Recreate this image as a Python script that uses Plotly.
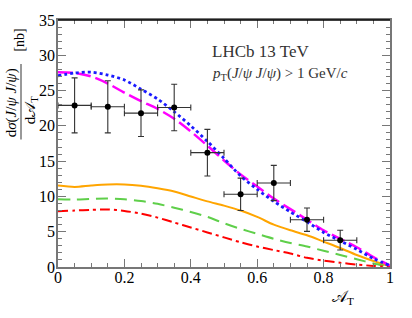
import plotly.graph_objects as go

# ---- data ----
x_data = [0.05, 0.15, 0.25, 0.35, 0.45, 0.55, 0.65, 0.75, 0.85]
y_data = [22.9, 22.7, 21.8, 22.6, 16.2, 10.3, 11.9, 6.7, 3.8]
y_err = [3.9, 3.7, 3.3, 3.3, 3.3, 2.3, 2.5, 1.65, 1.4]
x_err = [0.05] * 9

x_curve = [0.0, 0.05, 0.1, 0.15, 0.2, 0.25, 0.3, 0.35, 0.4, 0.45, 0.5,
           0.55, 0.6, 0.65, 0.7, 0.75, 0.8, 0.85, 0.9, 0.95, 1.0]
magenta = [27.6, 27.5, 27.0, 26.0, 24.7, 23.5, 22.4, 21.0, 19.2, 17.2, 15.1,
           13.1, 11.4, 9.7, 8.2, 6.7, 5.2, 4.0, 2.8, 1.4, 0.2]
blue = [27.1, 27.5, 27.6, 27.2, 26.5, 25.2, 23.8, 22.0, 20.0, 17.8, 15.4,
        12.9, 11.0, 9.3, 7.8, 6.4, 4.9, 3.7, 2.5, 1.2, 0.2]
orange = [11.55, 11.35, 11.55, 11.7, 11.7, 11.5, 11.15, 10.7, 10.0, 9.3, 8.7,
          8.0, 7.1, 6.0, 5.2, 4.5, 3.6, 2.7, 1.7, 0.85, 0.1]
green = [9.6, 9.55, 9.65, 9.7, 9.6, 9.35, 8.95, 8.4, 7.8, 7.1, 6.2,
         5.4, 4.7, 4.0, 3.4, 2.9, 2.3, 1.7, 1.1, 0.5, 0.05]
red = [7.9, 8.0, 8.1, 8.15, 7.95, 7.55, 7.0, 6.3, 5.6, 4.9, 4.2,
       3.5, 2.9, 2.4, 1.9, 1.3, 0.9, 0.6, 0.35, 0.15, 0.0]

x_ticks = [0, 0.2, 0.4, 0.6, 0.8, 1]
x_ticklabels = ["0", "0.2", "0.4", "0.6", "0.8", "1"]
y_ticks = [0, 5, 10, 15, 20, 25, 30, 35]

FONT = "Liberation Serif"

fig = go.Figure()

curves = [
    (orange, "#ffa500", "solid", 2),
    (green, "#5fcf4a", "12px,7px", 2),
    (red, "#ff0000", "10px,4px,3px,4px", 2),
    (magenta, "#ff00ff", "14px,5px", 2.5),
    (blue, "#1a1aff", "dot", 2.8),
]
for ys, col, dash, w in curves:
    fig.add_trace(go.Scatter(x=x_curve, y=ys, mode="lines",
                             line=dict(color=col, dash=dash, width=w, shape="spline", smoothing=0.8),
                             showlegend=False, hoverinfo="skip"))

fig.add_trace(go.Scatter(
    x=x_data, y=y_data, mode="markers",
    marker=dict(color="black", size=6),
    error_y=dict(type="data", array=y_err, color="#333333", thickness=1.1, width=3),
    error_x=dict(type="data", array=x_err, color="#333333", thickness=1.1, width=3),
    showlegend=False))

axis_common = dict(
    showline=True, linecolor="#777777", linewidth=1.5, mirror="ticks",
    ticks="inside", ticklen=8, tickwidth=1, tickcolor="#777777",
    showgrid=False, zeroline=False,
    tickfont=dict(family=FONT, size=16, color="black"),
)

fig.update_xaxes(range=[0, 1], tickvals=x_ticks, ticktext=x_ticklabels,
                 minor=dict(dtick=0.05, ticklen=4, ticks="inside", tickcolor="#777777"),
                 ticklabelstandoff=-5,
                 **axis_common)
fig.update_yaxes(range=[0, 35], tickvals=y_ticks,
                 minor=dict(dtick=1, ticklen=4, ticks="inside", tickcolor="#777777"),
                 ticklabelstandoff=-2,
                 **axis_common)

W, H = 412, 318
L, T = 58, 15
R = W - 390
B = H - 267
pw, ph = W - L - R, H - T - B

def px2paper(px, py):
    return (px - L) / pw, (H - B - py) / ph

def ann(px, py, text, size, angle=0, xanchor="center", color="black"):
    x, y = px2paper(px, py)
    return dict(x=x, y=y, xref="paper", yref="paper", showarrow=False,
                xanchor=xanchor, yanchor="middle", textangle=angle, text=text,
                font=dict(family=FONT, size=size, color=color))

anns = [
    ann(343, 298, "𝒜<sub>T</sub>", 16),
    ann(11, 99, "d<i>σ</i>(<i>J</i>/<i>ψ</i> <i>J</i>/<i>ψ</i>)", 15, angle=-90),
    ann(31, 107, "d𝒜<sub>T</sub>", 15, angle=-90),
    ann(20, 36, "[nb]", 14, angle=-90),
    ann(210, 47, "LHCb 13 TeV", 17, xanchor="left", color="#333333"),
    ann(210, 70, "<i>p</i><sub>T</sub>(<i>J</i>/<i>ψ</i> <i>J</i>/<i>ψ</i>) > 1 GeV/<i>c</i>",
        15, xanchor="left", color="#333333"),
]

fx0, fy0 = px2paper(21, 60)
fx1, fy1 = px2paper(21, 137)
shapes = [
    dict(type="line", xref="paper", yref="paper", x0=fx0, x1=fx0, y0=fy0, y1=fy1,
         line=dict(color="#555555", width=1.2)),
    dict(type="line", xref="paper", yref="paper", x0=0, x1=1, y0=1, y1=1,
         line=dict(color="black", width=1.5)),
]

fig.update_layout(
    width=W, height=H,
    margin=dict(l=L, r=R, t=T, b=B),
    plot_bgcolor="white", paper_bgcolor="white",
    annotations=anns, shapes=shapes,
    font=dict(family=FONT),
)

fig.write_html("out.html", config={"displayModeBar": False},
               post_script="document.body.style.margin='0';")
